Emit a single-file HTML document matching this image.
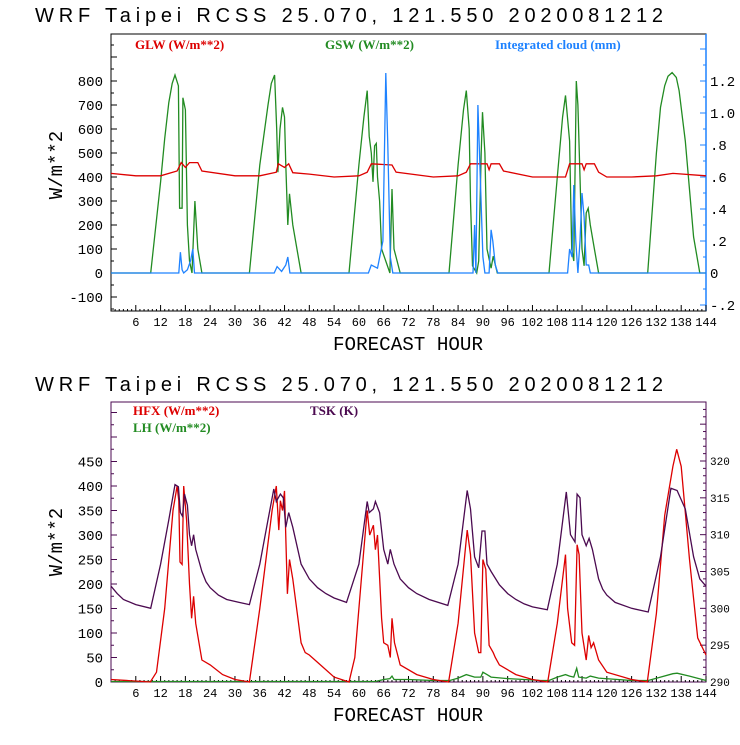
<!DOCTYPE html>
<html><head><meta charset="utf-8"><style>
body{margin:0;background:#fff;}
svg text{font-family:"Liberation Mono","DejaVu Sans Mono",monospace;}
.ser{font-family:"Liberation Serif",serif;font-weight:bold;}
.ttl{font-family:"Liberation Sans","DejaVu Sans",sans-serif;}
</style></head><body>
<svg id="chart" width="740" height="740" viewBox="0 0 740 740" xmlns="http://www.w3.org/2000/svg"></svg>
<script>
// ---- Top panel data ----
const glwH=[0,6,12,16,17,18,19,21,22,30,36,40,40.5,42,43,44,48,54,60,62,63,68,69,78,84,86,87,91,91.5,92,94,95,102,110,111,114,114.5,115,117,118,120,126,132,136,144];
const glwV=[415,405,405,425,460,440,460,460,425,405,405,420,455,440,455,418,412,400,405,420,455,450,420,400,405,420,455,455,430,455,455,425,400,400,455,455,430,455,455,420,400,400,405,415,405];
const gswH=[0,9.6,12,13,14,14.8,15.5,16.3,16.6,17.2,17.4,18,18.5,19,19.6,20.3,21,22,33.5,36,38,38.8,39.6,40.1,40.4,40.9,41.5,42,42.3,42.8,43.2,44,46,57.6,60,61.2,62,62.5,63,63.4,63.8,64.2,64.5,65,65.5,67.5,68,68.5,70,81.8,84,85.3,86,86.7,87,87.5,88.5,89,89.6,89.9,90.5,91,92,92.5,93.5,106,108,109.3,110,111,111.5,112,112.6,113,113.5,114,114.5,115,115.5,116,117,118,129.9,132,133,134,134.8,135.8,136.8,137.5,139,141,142.5,144];
const gswV=[0,0,380,560,710,790,825,780,270,270,730,680,200,50,0,300,100,0,0,450,700,790,825,600,420,600,690,650,450,200,330,200,0,0,450,650,760,570,500,380,530,540,400,300,100,0,350,100,0,0,450,680,760,600,300,30,0,50,500,670,500,100,20,70,0,0,400,650,740,550,100,50,800,700,400,100,30,250,270,200,100,0,0,500,690,780,820,835,815,760,550,150,0,0];
const cldH=[0,16.4,16.8,17.2,17.6,18.5,19.3,19.8,20.2,39.5,40.2,41.3,42.3,42.8,43.3,62.3,63,64.5,65.8,66.5,67,67.6,68.2,87.6,88,88.3,88.8,89.5,90,90.5,91.5,92,92.4,93,93.6,110.5,111,111.6,112,112.5,113,113.5,114,114.5,115,115.6,116,144];
const cldV=[0,0,0.13,0.02,0,0.02,0.08,0.15,0,0,0.04,0.01,0.05,0.1,0,0,0.05,0.03,0.2,1.25,0.8,0.1,0,0,0.3,0,1.05,0.5,0.1,0,0,0.27,0.2,0.05,0,0,0.15,0.1,0.55,0.2,0,0.2,0.5,0.35,0.05,0.05,0,0];
// ---- Bottom panel data ----
const tskH=[0,1.5,3,6,9.6,12,14,15.5,16.3,16.8,17.3,17.8,18.5,19,19.5,20,20.5,22,23,24,26,28,31,33.5,36,38,39.4,40,41,41.7,42.3,43,44,46,48,50,52,54,57,60,62,62.5,63.5,64,65,66,67,67.6,68.5,70,72,74,77,81.5,84,86.2,87,88,89,89.8,90.5,91,92,94,96,98,100,102,105.6,108,110.2,111.2,112.3,112.8,113.5,114,115,115.7,116.5,118,119,120,122,126,130,133,135.5,137,139,141,142.5,144];
const tskV=[303,302,301.2,300.5,300,306,312,316.8,316.5,313,312.5,315.5,314,310,308.5,310,308,305,303.6,302.8,301.8,301.2,300.8,300.5,306,312,316.2,314.5,315.5,315,311,313,311,306,304,302.8,302,301.4,300.8,306,314.5,313,313.5,314.5,313,308,306,308,306,304,302.8,302,301.2,300.4,306,316,313.5,307,305.5,310.5,310.5,306,305,303.2,302,301.2,300.6,300.2,299.8,306,315.8,310,309,315.5,315,310,308.5,309.5,308,304,302.6,301.8,300.8,300,299.5,307,316.3,316,313.5,307,304,303];
const hfxH=[0,9.5,11,13,15,16,16.4,16.7,17.2,17.6,18.3,19,19.5,20,20.5,21.5,22,24,27,30,33.5,36,39,40,40.6,41,41.5,42,42.7,43.2,44,46,47,48,50,54,57.6,59,61,62,62.6,63.5,64,64.5,65.5,66,67,67.6,68,68.6,70,74,78,81.7,84,86.2,87,88,89,89.5,90,90.7,91.5,92.5,93,94,98,102,105.7,108,110,110.5,111.5,112.2,112.8,113.3,114,115,115.6,116.2,116.8,118,120,126,129.8,132,134,136,136.9,138,140,142,144];
const hfxV=[5,0,20,150,350,400,370,245,240,400,330,200,130,175,120,70,45,35,15,5,0,150,350,400,310,370,350,390,180,250,210,80,60,55,40,10,0,50,250,350,300,320,270,300,130,80,75,50,130,80,35,15,5,0,120,310,260,100,60,60,250,230,75,60,50,35,15,5,0,120,260,150,80,75,280,260,100,45,95,70,80,45,20,5,0,140,340,440,475,440,250,90,55];
const lhH=[0,64,66,67.5,68,68.5,72,78,82,84,86,88,89.5,90,91,92,96,100,104,106,108,110,111,112,112.7,113.2,115,116,118,126,130,133,136,137,140,144];
const lhV=[1,1,5,7,12,5,5,3,3,8,15,10,10,20,15,10,7,5,3,3,10,15,12,10,28,10,8,12,8,3,3,10,17,18,12,3];
const xTicks=[6,12,18,24,30,36,42,48,54,60,66,72,78,84,90,96,102,108,114,120,126,132,138,144];
const topLeftTicks=[-100,0,100,200,300,400,500,600,700,800];
const topRightTicks=[-0.2,0,0.2,0.4,0.6,0.8,1.0,1.2];
const topRightLabels=["-.2","0",".2",".4",".6",".8","1.0","1.2"];
const botLeftTicks=[0,50,100,150,200,250,300,350,400,450];
const botRightTicks=[290,295,300,305,310,315,320];

const NS="http://www.w3.org/2000/svg";
const svg=document.getElementById('chart');
function mk(tag,attrs,parent,text){const e=document.createElementNS(NS,tag);for(const k in attrs)e.setAttribute(k,attrs[k]);if(text!==undefined)e.textContent=text;(parent||svg).appendChild(e);return e;}
const X0=111,X1=706;
const xs=h=>X0+(X1-X0)*h/144;

function panel(name){
  const g=mk('g',{});
  
  
  return g;
}
function title(y,g){
  const t=mk('text',{x:35,y:y,'font-size':'20','fill':'#000','xml:space':'preserve',class:'ttl',textLength:628,lengthAdjust:'spacing'},g,'WRF  Taipei RCSS   25.070, 121.550  2020081212');
  
  
}
function xaxis(g,yb,label){
  for(let h=1;h<=144;h++){
    const len=(h%6===0)?6:2;
    mk('line',{x1:xs(h),x2:xs(h),y1:yb,y2:yb-len,stroke:'#000','stroke-width':1},g);
  }
  xTicks.forEach(v=>{
    const t=mk('text',{x:xs(v),y:yb+15,'font-size':'12','text-anchor':'middle'},g,String(v));
    
    
  });
  const t=mk('text',{x:408,y:yb+39,'font-size':'19','text-anchor':'middle',textLength:150,lengthAdjust:'spacingAndGlyphs'},g,label);
  
  
}
function line(g,H,V,ys,color,name){
  const d=H.map((h,i)=>(i?'L':'M')+xs(h).toFixed(1)+','+ys(V[i]).toFixed(1)).join('');
  const p=mk('path',{d:d,fill:'none',stroke:color,'stroke-width':1.3},g);
  
  
}

// ===== TOP =====
{
const g=panel('radiation-panel');
title(22,g);
const T=34,B=311;
const yL=v=>273-v*0.24;
const yR=v=>273-v*(192/1.2);
mk('rect',{x:X0,y:T,width:X1-X0,height:B-T,fill:'none',stroke:'#000','stroke-width':1},g);
mk('line',{x1:X1,x2:X1,y1:T,y2:B,stroke:'#1e82ff','stroke-width':1.5},g);
for(let v=-150;v<=950;v+=50){const y=yL(v);if(y<T||y>B)continue;mk('line',{x1:X0,x2:X0+(v%100===0?6:3),y1:y,y2:y,stroke:'#000'},g);}
topLeftTicks.forEach(v=>{const t=mk('text',{x:103,y:yL(v)+5,'font-size':'14','text-anchor':'end'},g,String(v));});
for(let v=-0.2;v<=1.45;v+=0.1){const y=yR(v);if(y<T||y>B)continue;mk('line',{x1:X1,x2:X1-(Math.round(v*10)%2===0?6:3),y1:y,y2:y,stroke:'#1e82ff'},g);}
topRightTicks.forEach((v,i)=>{const t=mk('text',{x:710,y:yR(v)+5,'font-size':'14'},g,topRightLabels[i]);});
const yl=mk('text',{x:0,y:0,'font-size':'19','text-anchor':'middle',transform:'translate(62,165) rotate(-90)'},g,'W/m**2');

xaxis(g,B,'FORECAST HOUR');
line(g,gswH,gswV,yL,'#228b22','gsw-line');
line(g,glwH,glwV,yL,'#dd0000','glw-line');
line(g,cldH,cldV,yR,'#1e82ff','cloud-line');
[['GLW (W/m**2)',135,'#dd0000','legend-glw'],['GSW (W/m**2)',325,'#228b22','legend-gsw'],['Integrated cloud (mm)',495,'#1e82ff','legend-cloud']].forEach(a=>{
  const t=mk('text',{x:a[1],y:49,'font-size':'13',fill:a[2],class:'ser'},g,a[0]);
  
});
}
// ===== BOTTOM =====
{
const g=panel('flux-panel');
title(391,g);
const T=402,B=682;
const yL=v=>682-v*0.49;
const yR=v=>682-(v-290)*(221/30);
const pur='#4b0a50';
mk('rect',{x:X0,y:T,width:X1-X0,height:B-T,fill:'none',stroke:pur,'stroke-width':1},g);
for(let v=25;v<=550;v+=25){const y=yL(v);if(y<T)continue;mk('line',{x1:X0,x2:X0+(v%50===0?6:3),y1:y,y2:y,stroke:pur},g);}
for(let v=291;v<=327;v+=1){const y=yR(v);if(y<T)continue;mk('line',{x1:X1,x2:X1-(v%5===0?6:3),y1:y,y2:y,stroke:pur},g);}
botLeftTicks.forEach(v=>{const t=mk('text',{x:103,y:yL(v)+5,'font-size':'14','text-anchor':'end'},g,String(v));});
botRightTicks.forEach(v=>{const t=mk('text',{x:710,y:yR(v)+4,'font-size':'11'},g,String(v));});
const yl=mk('text',{x:0,y:0,'font-size':'19','text-anchor':'middle',transform:'translate(62,542) rotate(-90)'},g,'W/m**2');

xaxis(g,B,'FORECAST HOUR');
line(g,lhH,lhV,yL,'#228b22','lh-line');
line(g,hfxH,hfxV,yL,'#dd0000','hfx-line');
line(g,tskH,tskV,yR,pur,'tsk-line');
[['HFX (W/m**2)',133,415,'#dd0000','legend-hfx'],['LH  (W/m**2)',133,432,'#228b22','legend-lh'],['TSK (K)',310,415,pur,'legend-tsk']].forEach(a=>{
  const t=mk('text',{x:a[1],y:a[2],'font-size':'13',fill:a[3],class:'ser','xml:space':'preserve'},g,a[0]);
  
});
}
</script>
</body></html>
